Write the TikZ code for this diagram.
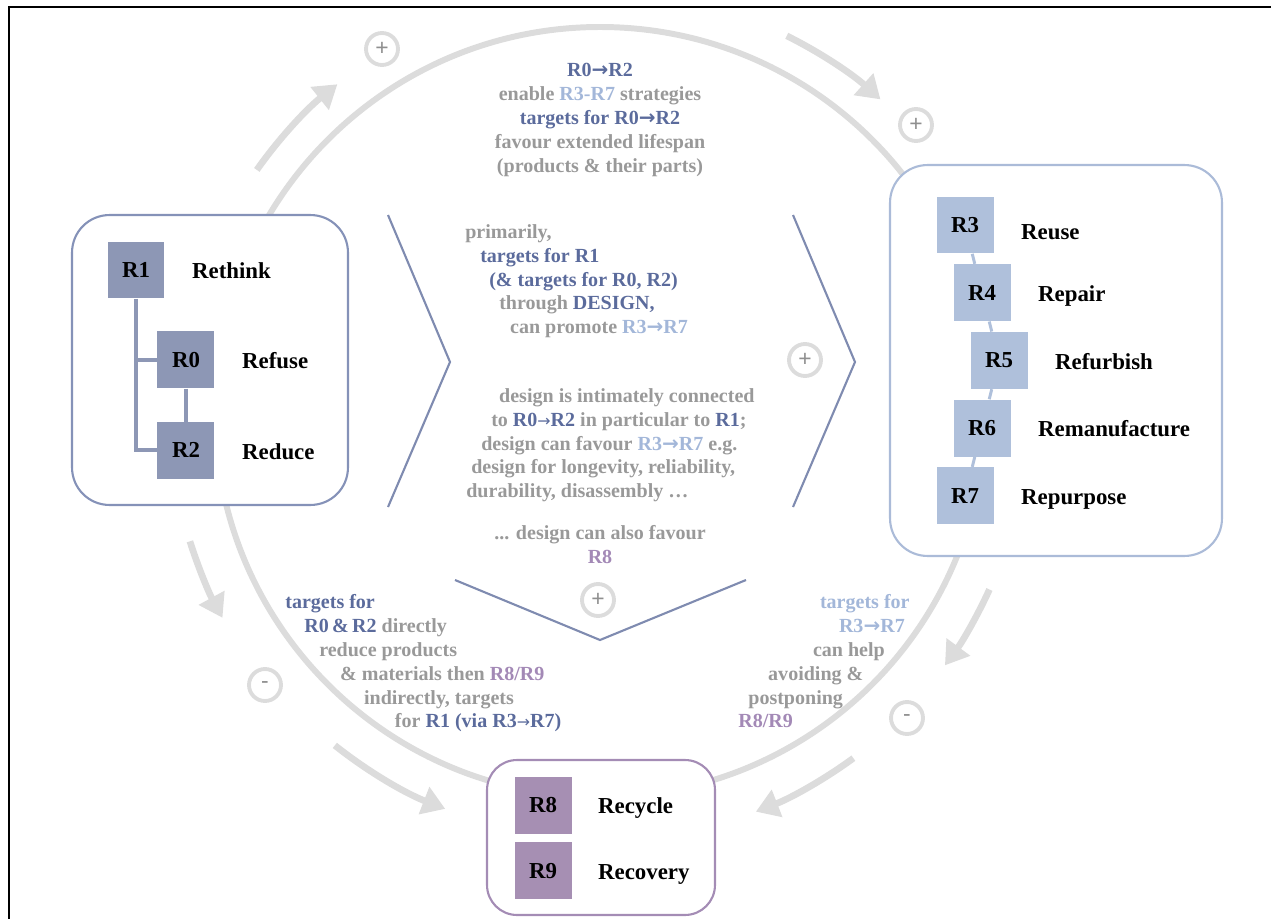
\documentclass[tikz,border=0pt]{standalone}
\usepackage{fontspec}
\setmainfont{Liberation Serif}
\setsansfont{Liberation Sans}
\newfontfamily\arrowfont{DejaVu Sans}
\usetikzlibrary{positioning,arrows.meta}

\definecolor{ringgray}{HTML}{DCDCDC}
\definecolor{signgray}{HTML}{8F8F8F}
\definecolor{txtgray}{HTML}{999999}
\definecolor{txtdark}{HTML}{5B6B9C}
\definecolor{txtlight}{HTML}{A3B7D9}
\definecolor{txtpurple}{HTML}{A389B6}
\definecolor{leftfill}{HTML}{8D97B5}
\definecolor{leftline}{HTML}{8592B8}
\definecolor{rightfill}{HTML}{AFC0DB}
\definecolor{rightline}{HTML}{ABBBD8}
\definecolor{botfill}{HTML}{A68FB3}
\definecolor{botline}{HTML}{A48CB5}
\definecolor{chevline}{HTML}{7F8BB0}

\newcommand{\rdark}[1]{\textcolor{txtdark}{#1}}
\newcommand{\rlight}[1]{\textcolor{txtlight}{#1}}
\newcommand{\rpurple}[1]{\textcolor{txtpurple}{#1}}
\newcommand{\rto}{{\arrowfont\bfseries →}}
\newcommand{\rthinto}{{\arrowfont\mdseries\fontsize{9}{9}\selectfont →}}

\tikzset{
  txt/.style={inner sep=0pt, text=txtgray, font=\fontsize{11.4}{13.6}\selectfont\bfseries},
  sq/.style={minimum size=1.14cm, inner sep=0pt, font=\fontsize{13}{15}\selectfont\bfseries},
  lsq/.style={sq, fill=leftfill},
  rsq/.style={sq, fill=rightfill},
  bsq/.style={sq, fill=botfill},
  rname/.style={inner sep=0pt, font=\fontsize{13}{15}\selectfont\bfseries, text height=11pt, text depth=1pt},
  group/.style={fill=white, line width=1.2pt, rounded corners=0.75cm},
  sign/.style={circle, draw=ringgray, line width=2.2pt, minimum size=0.64cm, inner sep=0pt, text=signgray, font=\sffamily\fontsize{13}{13}\selectfont},
  flow/.style={ringgray, line width=3.8pt, -{Triangle[length=13pt,width=16pt]}},
  chev/.style={chevline, line width=1.2pt},
  llink/.style={leftfill, line width=2.3pt},
  rlink/.style={rightfill, line width=1.7pt},
}

\begin{document}
\begin{tikzpicture}[x=0.02cm, y=-0.02cm]
        \useasboundingbox (0,0) rectangle (1271,919);
        \draw[line width=1.1pt] (9,919) -- (9,7) -- (1271,7);

        % Ring
        \draw[ringgray, line width=3.4pt] (600,412) circle (385);
        \draw[flow] ([shift={(-144.8:420)}]600,412) arc[start angle=-144.8, end angle=-128.7, radius=420];
        \draw[flow] ([shift={(-63.6:420)}]600,412) arc[start angle=-63.6, end angle=-48.1, radius=420];
        \draw[flow] ([shift={(24.5:428)}]600,412) arc[start angle=24.5, end angle=36.3, radius=428];
        \draw[flow] ([shift={(53.8:429)}]600,412) arc[start angle=53.8, end angle=68.7, radius=429];
        \draw[flow] ([shift={(128.5:426)}]600,412) arc[start angle=128.5, end angle=111.3, radius=426];
        \draw[flow] ([shift={(162.5:430)}]600,412) arc[start angle=162.5, end angle=151.4, radius=430];

        \node (plusA) [sign] at (382,49) {+};
        \node (plusB) [sign] at (916,125) {+};
        \node (plusC) [sign] at (805,360) {+};
        \node (plusD) [sign] at (598,600) {+};
        \node (minusA) [sign] at (265,685) {-};
        \node (minusB) [sign] at (907,718) {-};

        % Chevrons
        \draw[chev] (388,215) -- (450,362) -- (388,507);
        \draw[chev] (793,215) -- (855,362) -- (793,507);
        \draw[chev] (455,580) -- (600,640) -- (746,580);

        % Groups
        \node (leftgroup) [group, draw=leftline, minimum width=5.52cm, minimum height=5.8cm] at (210,360) {};
        \node (rightgroup) [group, draw=rightline, minimum width=6.64cm, minimum height=7.82cm] at (1056,360.5) {};
        \node (botgroup) [group, draw=botline, rounded corners=0.6cm, minimum width=4.56cm, minimum height=3.1cm] at (601,837.5) {};

        % Nodes
        \node (R1) [lsq] at (136,270) {R1};
        \node (R0) [lsq, below=0.64cm of R1, xshift=1cm] {R0};
        \node (R2) [lsq, below=0.66cm of R0] {R2};
        \node (rethink) [rname, right=0.54cm of R1] {Rethink};
        \node (refuse) [rname, right=0.54cm of R0] {Refuse};
        \node (reduce) [rname, right=0.54cm of R2] {Reduce};

        \node (R3) [rsq] at (965,225) {R3};
        \node (R4) [rsq, below=0.2cm of R3, xshift=0.34cm] {R4};
        \node (R5) [rsq, below=0.2cm of R4, xshift=0.34cm] {R5};
        \node (R6) [rsq, below=0.2cm of R5, xshift=-0.34cm] {R6};
        \node (R7) [rsq, below=0.2cm of R6, xshift=-0.34cm] {R7};
        \node (reuse) [rname, right=0.54cm of R3, yshift=-0.12cm] {Reuse};
        \node (repair) [rname, right=0.54cm of R4] {Repair};
        \node (refurbish) [rname, right=0.54cm of R5] {Refurbish};
        \node (remanufacture) [rname, right=0.54cm of R6] {Remanufacture};
        \node (repurpose) [rname, right=0.54cm of R7] {Repurpose};

        \node (R8) [bsq] at (543,805) {R8};
        \node (R9) [bsq, below=0.16cm of R8] {R9};
        \node (recycle) [rname, right=0.52cm of R8] {Recycle};
        \node (recovery) [rname, right=0.52cm of R9] {Recovery};

        % Links
        \draw[llink] (R1.south) |- (R0.west);
        \draw[llink] (R1.south) |- (R2.west);
        \draw[llink] (R0) -- (R2);
        \draw[rlink] (R3) -- (R4) (R4) -- (R5) (R5) -- (R6) (R6) -- (R7);

        % Texts
        \node (toptext) [txt, align=center, anchor=north] at (600,63) {%
          \rdark{R0\rto R2}\\
          enable \rlight{R3-R7} strategies\\
          \rdark{targets for R0\rto R2}\\
          favour extended lifespan\\
          (products \& their parts)};
        \node (designtext) [txt, align=left, anchor=north west] at (465,224) {%
          primarily,\\
          \hspace*{8.5pt}\rdark{targets for R1}\\
          \hspace*{13.6pt}\rdark{(\& targets for R0, R2)}\\
          \hspace*{19.3pt}through \rdark{DESIGN,}\\
          \hspace*{25.5pt}can promote \rlight{R3\rto R7}};
        \node (linktext) [txt, align=left, anchor=north west] at (466,388) {%
          \hspace*{18.7pt}design is intimately connected\\
          \hspace*{14.2pt}to \rdark{R0\rthinto R2} in particular to \rdark{R1};\\
          \hspace*{8.5pt}design can favour \rlight{R3\rto R7} e.g.\\
          \hspace*{2.8pt}design for longevity, reliability,\\
          durability, disassembly …};
        \node (alsotext) [txt, align=center, anchor=north] at (600,525) {%
          ... design can also favour\\
          \rpurple{R8}};
        \node (reducetext) [txt, align=left, anchor=north west] at (285,594) {%
          \rdark{targets for}\\
          \hspace*{10.8pt}\rdark{R0\,\&\,R2} directly\\
          \hspace*{19.3pt}reduce products\\
          \hspace*{31.2pt}\& materials then \rpurple{R8/R9}\\
          \hspace*{44.8pt}indirectly, targets\\
          \hspace*{62.4pt}for \rdark{R1 (via R3\rthinto R7)}};
        \node (helptext) [txt, align=left, anchor=north west] at (738,594) {%
          \hspace*{46.5pt}\rlight{targets for}\\
          \hspace*{57.3pt}\rlight{R3\rto R7}\\
          \hspace*{42.5pt}can help\\
          \hspace*{17pt}avoiding \&\\
          \hspace*{5.7pt}postponing\\
          \rpurple{R8/R9}};
\end{tikzpicture}
\end{document}
